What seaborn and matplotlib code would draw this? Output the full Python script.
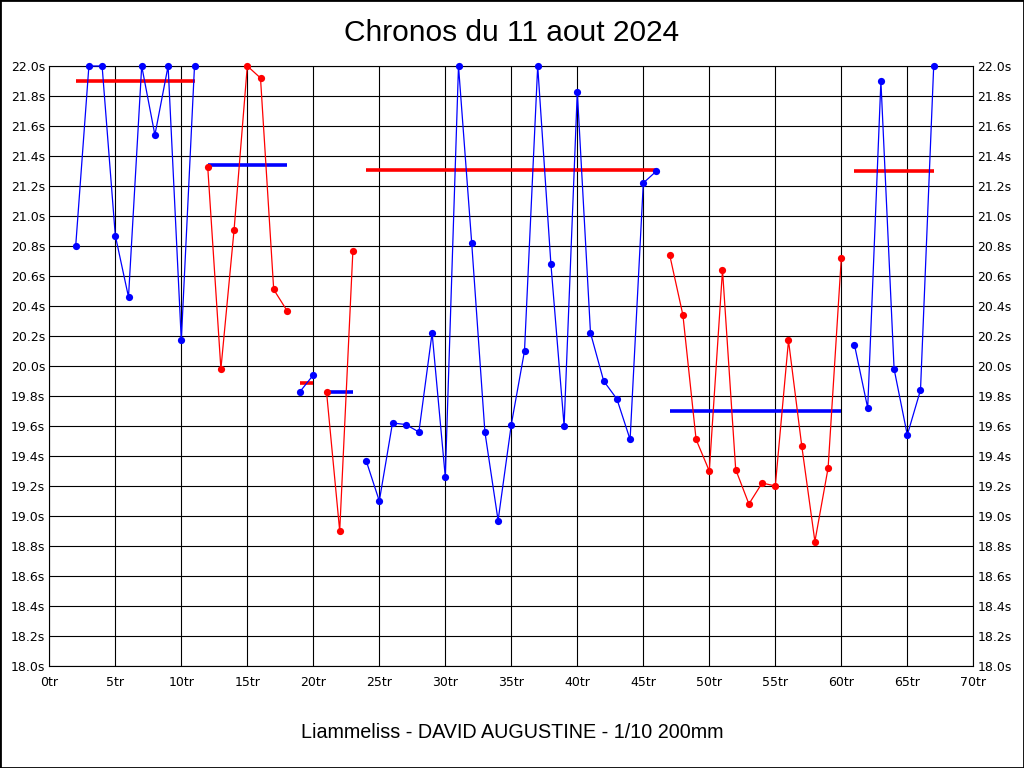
import matplotlib
matplotlib.use("Agg")
import matplotlib.pyplot as plt
import seaborn as sns
import pandas as pd
from matplotlib.patches import Rectangle

# ---- data ----
laps = list(range(2, 68))
times = [20.80, 22.00, 22.00, 20.87, 20.46, 22.00, 21.54, 22.00, 20.17, 22.00,
         21.33, 19.98, 20.91, 22.00, 21.92, 20.51, 20.37,
         19.83, 19.94,
         19.83, 18.90, 20.77,
         19.37, 19.10, 19.62, 19.61, 19.56, 20.22, 19.26, 22.00, 20.82, 19.56,
         18.97, 19.61, 20.10, 22.00, 20.68, 19.60, 21.83, 20.22, 19.90, 19.78,
         19.51, 21.22, 21.30,
         20.74, 20.34, 19.51, 19.30, 20.64, 19.31, 19.08, 19.22, 19.20, 20.17,
         19.47, 18.83, 19.32, 20.72,
         20.14, 19.72, 21.90, 19.98, 19.54, 19.84, 22.00]
seg_start = [2, 12, 19, 21, 24, 47, 61]
seg_end = [11, 18, 20, 23, 46, 60, 67]
seg_avg = [21.90, 21.34, 19.885, 19.83, 21.31, 19.70, 21.30]
x_ticks = list(range(0, 71, 5))
x_labels = [f"{v}tr" for v in x_ticks]
y_ticks = [round(18.0 + 0.2 * i, 1) for i in range(21)]
y_labels = [f"{v:.1f}s" for v in y_ticks]
title = "Chronos du 11 aout 2024"
footer = "Liammeliss - DAVID AUGUSTINE - 1/10 200mm"

# ---- style ----
seg_colors = ["#0000ff", "#ff0000", "#0000ff", "#ff0000", "#0000ff", "#ff0000", "#0000ff"]
avg_colors = ["#ff0000", "#0000ff", "#ff0000", "#0000ff", "#ff0000", "#0000ff", "#ff0000"]

sns.set_style("white")
plt.rcParams['font.family'] = ['DejaVu Sans']
plt.rcParams['text.color'] = 'black'

df = pd.DataFrame({"lap": laps, "time": times})

fig = plt.figure(figsize=(10.24, 7.68), dpi=100)
fig.patch.set_facecolor("white")
ax = fig.add_axes([49.3 / 1024, 1 - 666 / 768, 924 / 1024, 600 / 768])
ax.set_facecolor("white")

for s, e, c in zip(seg_start, seg_end, seg_colors):
    sub = df[(df["lap"] >= s) & (df["lap"] <= e)]
    sns.lineplot(data=sub, x="lap", y="time", ax=ax, color=c, linewidth=0.9,
                 marker="o", markersize=5.2, markeredgecolor=c, markeredgewidth=0,
                 estimator=None, sort=False, clip_on=False, zorder=4)

ax.hlines(seg_avg, seg_start, seg_end, colors=avg_colors, linewidth=2.6, zorder=3)

ax.set_xlim(0, 70)
ax.set_ylim(18.0, 22.0)
ax.set_xticks(x_ticks)
ax.set_xticklabels(x_labels)
ax.set_yticks(y_ticks)
ax.set_yticklabels(y_labels)
ax.set_xlabel("")
ax.set_ylabel("")
ax.grid(True, color="black", linewidth=0.8)
ax.set_axisbelow(True)
for sp in ax.spines.values():
    sp.set_visible(True)
    sp.set_color("black")
    sp.set_linewidth(0.8)
ax.tick_params(axis="x", length=0, pad=7.5, labelsize=9, colors="black")
ax.tick_params(axis="y", length=0, pad=3, labelsize=9, colors="black",
               left=True, right=True, labelleft=True, labelright=True)

fig.text(0.5, 1 - 33 / 768, title, ha="center", va="center", color="black",
         fontsize=21.5, family=["Liberation Sans", "DejaVu Sans"])
fig.text(0.5, 1 - 733 / 768, footer, ha="center", va="center", color="black",
         fontsize=14.2, family=["Liberation Sans", "DejaVu Sans"])

fig.patches.append(Rectangle((0, 0), 1, 1, transform=fig.transFigure,
                             fill=False, edgecolor="black", linewidth=2))

fig.savefig("out.png", dpi=100, facecolor="white")
